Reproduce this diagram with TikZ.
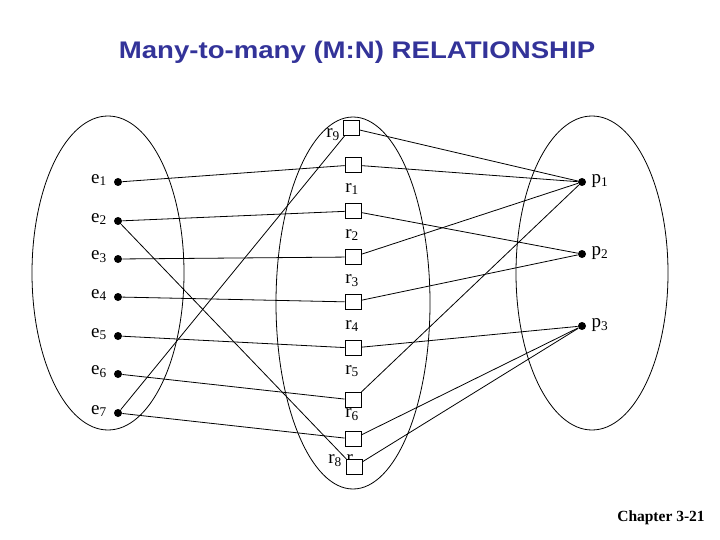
\documentclass[tikz,border=0pt]{standalone}
\usepackage{fontspec}
\setmainfont{Liberation Serif}
\newfontfamily\titlefont{Liberation Sans}[FakeStretch=1.15]
\definecolor{titleblue}{RGB}{51,51,153}
\begin{document}
\begin{tikzpicture}
  [x=1pt,y=-1pt,line width=0.8pt,
   ent/.style={circle,fill=black,inner sep=0pt,minimum width=8pt},
   rel/.style={draw,fill=white,inner sep=0pt,minimum width=16pt,minimum height=15pt},
   lbl/.style={inner sep=0pt,font=\fontsize{19}{19}\selectfont}]
  \useasboundingbox (0,0) rectangle (720,540);
  \node (title) at (357,52) [font={\titlefont\bfseries\fontsize{24}{24}\selectfont},text=titleblue] {Many-to-many (M:N) RELATIONSHIP};
  \node (chapter) at (661,518) [font={\bfseries\fontsize{15.5}{15.5}\selectfont}] {Chapter 3-21};

  \draw (108,273) ellipse [x radius=76pt,y radius=157pt];
  \draw (353,303) ellipse [x radius=77pt,y radius=186pt];
  \draw (592,273) ellipse [x radius=76pt,y radius=157pt];

  \node[ent] (e1) at (118,182) {};
  \node[ent] (e2) at (118,221) {};
  \node[ent] (e3) at (118,259) {};
  \node[ent] (e4) at (118,297) {};
  \node[ent] (e5) at (118,336) {};
  \node[ent] (e6) at (118,374) {};
  \node[ent] (e7) at (118,413) {};
  \node[lbl] (le1) at (99,180) {e\textsubscript{1}};
  \node[lbl] (le2) at (99,219) {e\textsubscript{2}};
  \node[lbl] (le3) at (99,257) {e\textsubscript{3}};
  \node[lbl] (le4) at (99,295) {e\textsubscript{4}};
  \node[lbl] (le5) at (99,334) {e\textsubscript{5}};
  \node[lbl] (le6) at (99,372) {e\textsubscript{6}};
  \node[lbl] (le7) at (99,411) {e\textsubscript{7}};

  \node[ent] (p1) at (582,182) {};
  \node[ent] (p2) at (582,254) {};
  \node[ent] (p3) at (582,326) {};
  \node[lbl] (lp1) at (600,181) {p\textsubscript{1}};
  \node[lbl] (lp2) at (600,253) {p\textsubscript{2}};
  \node[lbl] (lp3) at (600,325) {p\textsubscript{3}};

  \node[lbl] (lr9) at (333,135) {r\textsubscript{9}};
  \node[lbl] (lr1) at (352,189) {r\textsubscript{1}};
  \node[lbl] (lr2) at (352,235) {r\textsubscript{2}};
  \node[lbl] (lr3) at (352,281) {r\textsubscript{3}};
  \node[lbl] (lr4) at (352,326) {r\textsubscript{4}};
  \node[lbl] (lr5) at (352,371) {r\textsubscript{5}};
  \node[lbl] (lr6) at (352,415) {r\textsubscript{6}};
  \node[lbl,anchor=west] (lr8) at (328,461) {r\textsubscript{8} r};

  \node[rel] (r9) at (351,128) {};
  \node[rel] (r1) at (353,165) {};
  \node[rel] (r2) at (353,211) {};
  \node[rel] (r3) at (353,257) {};
  \node[rel] (r4) at (353,302) {};
  \node[rel] (r5) at (353,348) {};
  \node[rel] (r6) at (353,400) {};
  \node[rel] (r7) at (353,439) {};
  \node[rel] (r8) at (354,467) {};

  \draw (e1) -- (r1);
  \draw (e2) -- (r2);
  \draw (e2) -- (r8);
  \draw (e3) -- (r3);
  \draw (e4) -- (r4);
  \draw (e5) -- (r5);
  \draw (e6) -- (r6);
  \draw (e7) -- (r7);
  \draw (e7) -- (r9);

  \draw (r9) -- (p1);
  \draw (r1) -- (p1);
  \draw (r2) -- (p2);
  \draw (r3) -- (p1);
  \draw (r4) -- (p2);
  \draw (r5) -- (p3);
  \draw (r6) -- (p1);
  \draw (r7) -- (p3);
  \draw (r8) -- (p3);

\end{tikzpicture}
\end{document}
